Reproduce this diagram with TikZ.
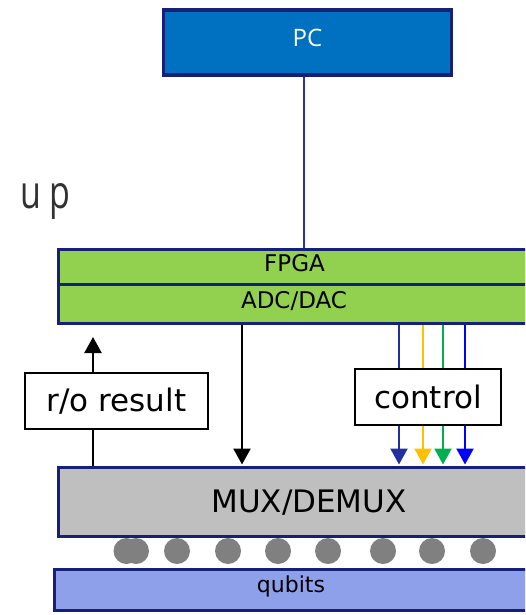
\documentclass[tikz,border=0pt]{standalone}
\usepackage{fontspec}
\setmainfont{DejaVu Sans}
\newfontfamily\pcfont{Open Sans}
\usetikzlibrary{arrows.meta}
\definecolor{navy}{RGB}{22,32,120}
\definecolor{pcblue}{RGB}{0,112,192}
\definecolor{fpgagreen}{RGB}{146,208,80}
\definecolor{muxgray}{RGB}{191,191,191}
\definecolor{qubitblue}{RGB}{143,160,234}
\definecolor{dotgray}{RGB}{128,128,128}
\definecolor{linkblue}{RGB}{40,50,170}
\definecolor{ctlnavy}{RGB}{32,48,160}
\definecolor{ctlgold}{RGB}{255,192,0}
\definecolor{ctlgreen}{RGB}{0,176,80}
\definecolor{ctlblue}{RGB}{0,0,255}
\definecolor{uptext}{RGB}{50,50,50}
\begin{document}
\begin{tikzpicture}[x=1pt,y=-1pt,
  block/.style={draw=navy,line width=3.5pt,inner sep=0pt,anchor=north west},
  tagbox/.style={draw=black,fill=white,line width=2pt,inner sep=0pt,anchor=north west,font=\fontsize{31}{31}\selectfont},
  label/.style={inner sep=0pt,anchor=base},
  flow/.style={line width=2.4pt,-{Triangle[length=16pt,width=17pt]},shorten >=1pt},
  qdot/.style={circle,fill=dotgray,minimum size=26pt,inner sep=0pt}]
\useasboundingbox (0,0) rectangle (525,615);
\clip (0,0) rectangle (525,615);

% blocks
\node[block,fill=pcblue,minimum width=288pt,minimum height=65pt] (pc) at (161.5,8.5) {};
\node[block,fill=fpgagreen,minimum width=520pt,minimum height=74pt] (fpga) at (56.5,247.5) {};
\draw[navy,line width=3.5pt] (fpga.west |- 0,284.5) -- (fpga.east |- 0,284.5);
\node[block,fill=muxgray,minimum width=520pt,minimum height=69pt] (mux) at (56.5,465.5) {};
\node[block,fill=qubitblue,minimum width=520pt,minimum height=41pt] (qb) at (52.5,567.5) {};

% block labels
\node[label,text=white,font=\pcfont\fontsize{24}{24}\selectfont] (pctext) at (307.5,47) {PC};
\node[label,font=\fontsize{23}{23}\selectfont] (fpgatext) at (294.5,271) {FPGA};
\node[label,font=\fontsize{23}{23}\selectfont] (adctext) at (294,308) {ADC/DAC};
\node[label,font=\fontsize{31}{31}\selectfont] (muxtext) at (309,512) {MUX/DEMUX};
\node[label,font=\fontsize{22}{22}\selectfont] (qbtext) at (291,592) {qubits};

\node[anchor=base west,inner sep=0pt,text=uptext,font=\pcfont\fontsize{34}{34}\selectfont] (up) at (20,208) {\scalebox{1}[1.35]{u\kern8pt p}};

% PC to FPGA link
\coordinate (pcx) at (304,0);
\draw[linkblue,line width=2.4pt] (pc.south -| pcx) -- (fpga.north -| pcx);

% readout and drive arrows
\coordinate (dnx) at (242,0);
\draw[flow] (fpga.south -| dnx) -- (mux.north -| dnx);
\coordinate (rotip) at (93,336);
\draw[flow] (mux.north -| rotip) -- (rotip);

% control lines
\foreach \cx/\cc in {399/ctlnavy,423/ctlgold,443/ctlgreen,465/ctlblue}{
  \coordinate (c\cx) at (\cx,0);
  \draw[flow,\cc] (fpga.south -| c\cx) -- (mux.north -| c\cx);
}

% tags
\node[tagbox,minimum width=183pt,minimum height=56pt] (ro) at (24,372) {r/o result};
\node[tagbox,minimum width=146pt,minimum height=56pt] (ctl) at (354,368) {control};

% qubit dots
\foreach \dx [count=\i] in {126.5,136,177,228,278,328,383,432,483}{
  \node[qdot] (d\i) at (\dx,551) {};
}
\end{tikzpicture}
\end{document}
